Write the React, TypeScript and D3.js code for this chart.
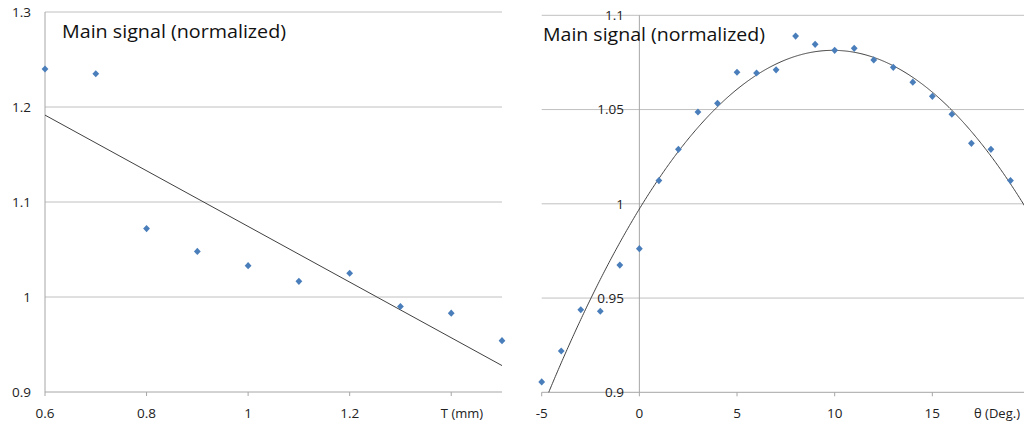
import React from "react";
import * as d3 from "d3";

// ---------- data ----------
const tValues = [0.6, 0.7, 0.8, 0.9, 1.0, 1.1, 1.2, 1.3, 1.4, 1.5];
const tSignal = [1.24, 1.235, 1.072, 1.048, 1.033, 1.0165, 1.025, 0.99, 0.983, 0.954];

const thetaValues = [-5, -4, -3, -2, -1, 0, 1, 2, 3, 4, 5, 6, 7, 8, 9, 10, 11, 12, 13, 14, 15, 16, 17, 18, 19];
const thetaSignal = [
  0.9055, 0.9219, 0.9438, 0.943, 0.9675, 0.9762, 1.0123, 1.0289, 1.0487, 1.0533, 1.0698, 1.0694,
  1.0711, 1.089, 1.0846, 1.0814, 1.0825, 1.0763, 1.0724, 1.0645, 1.057, 1.0475, 1.0321, 1.0289, 1.0123,
];

const leftXTicks = [0.6, 0.8, 1.0, 1.2, 1.4];
const leftXLabels = ["0.6", "0.8", "1", "1.2", ""];
const leftYTicks = [0.9, 1.0, 1.1, 1.2, 1.3];
const leftYLabels = ["0.9", "1", "1.1", "1.2", "1.3"];

const rightXTicks = [-5, 0, 5, 10, 15, 20];
const rightXLabels = ["-5", "0", "5", "10", "15", ""];
const rightYTicks = [0.9, 0.95, 1.0, 1.05, 1.1];
const rightYLabels = ["0.9", "0.95", "1", "1.05", "1.1"];

const titleText = "Main signal (normalized)";
const leftAxisTitle = "T (mm)";
const rightAxisTitle = "θ (Deg.)";

// ---------- least squares polynomial fit (trendline) ----------
function polyfit(xs: number[], ys: number[], order: number): number[] {
  const n = order + 1;
  const A: number[][] = [];
  for (let i = 0; i < n; i++) {
    A.push(new Array(n + 1).fill(0));
    for (let j = 0; j < n; j++) {
      A[i][j] = d3.sum(xs, (x) => Math.pow(x, i + j));
    }
    A[i][n] = d3.sum(xs.map((x, k) => Math.pow(x, i) * ys[k]));
  }
  for (let c = 0; c < n; c++) {
    let p = c;
    for (let r = c + 1; r < n; r++) if (Math.abs(A[r][c]) > Math.abs(A[p][c])) p = r;
    [A[c], A[p]] = [A[p], A[c]];
    for (let r = 0; r < n; r++) {
      if (r === c) continue;
      const f = A[r][c] / A[c][c];
      for (let k = c; k <= n; k++) A[r][k] -= f * A[c][k];
    }
  }
  return A.map((row, i) => row[n] / row[i]);
}
const polyEval = (coef: number[], x: number) => coef.reduce((s, c, i) => s + c * Math.pow(x, i), 0);

const GRID = "#c0c0c0";
const AXIS = "#a6a6a6";
const TEXT = "#222222";
const BLUE = "#4a7ebb";
const LINE = "#404040";
const FONT = "'Open Sans', 'Noto Sans', sans-serif";

const diamond = "M0,-3.6L3.4,0L0,3.6L-3.4,0Z";

export default function App() {
  // left chart
  const lx = d3.scaleLinear().domain([0.6, 1.5]).range([45, 502]);
  const ly = d3.scaleLinear().domain([0.9, 1.3]).range([392, 12]);
  const linCoef = polyfit(tValues, tSignal, 1);
  const linLine = d3
    .line<number>()
    .x((d) => lx(d))
    .y((d) => ly(polyEval(linCoef, d)));

  // right chart
  const rx = d3.scaleLinear().domain([-5, 20]).range([541.7, 1030]);
  const ry = d3.scaleLinear().domain([0.9, 1.1]).range([392.3, 15.3]);
  const quadCoef = polyfit(thetaValues, thetaSignal, 2);
  const curveX = d3.range(-5, 20.001, 0.05);
  const quadLine = d3
    .line<number>()
    .x((d) => rx(d))
    .y((d) => ry(polyEval(quadCoef, d)));

  return (
    <div style={{ position: "fixed", left: 0, top: 0 }}>
      <svg width={1024} height={426} style={{ display: "block", background: "#fff" }} fontFamily={FONT}>
        <defs>
          <clipPath id="clipL">
            <rect x={lx(0.6)} y={ly(1.3)} width={lx(1.5) - lx(0.6)} height={ly(0.9) - ly(1.3)} />
          </clipPath>
          <clipPath id="clipR">
            <rect x={rx(-5)} y={ry(1.1)} width={rx(20) - rx(-5)} height={ry(0.9) - ry(1.1)} />
          </clipPath>
        </defs>

        {/* ---------- LEFT ---------- */}
        <g>
          {leftYTicks.slice(1).map((v) => (
            <line key={v} x1={lx(0.6)} x2={lx(1.5)} y1={ly(v)} y2={ly(v)} stroke={GRID} strokeWidth={1} />
          ))}
          <line x1={lx(0.6)} x2={lx(0.6)} y1={ly(1.3)} y2={ly(0.9)} stroke={AXIS} />
          <line x1={lx(0.6)} x2={lx(1.5)} y1={ly(0.9)} y2={ly(0.9)} stroke={AXIS} />
          {leftXTicks.map((v) => (
            <line key={v} x1={lx(v)} x2={lx(v)} y1={ly(0.9)} y2={ly(0.9) + 4} stroke={AXIS} />
          ))}
          {leftYTicks.map((v, i) => (
            <text key={v} x={31} y={ly(v)} dy="0.35em" textAnchor="end" fontSize={13.5} fill={TEXT}>
              {leftYLabels[i]}
            </text>
          ))}
          {leftXTicks.map((v, i) => (
            <text key={v} x={lx(v)} y={413} dy="0.35em" textAnchor="middle" fontSize={13.5} fill={TEXT}>
              {leftXLabels[i]}
            </text>
          ))}
          <text x={462} y={413} dy="0.35em" textAnchor="middle" fontSize={13} fill={TEXT}>
            {leftAxisTitle}
          </text>
          <g clipPath="url(#clipL)">
            <path d={linLine([0.6, 1.5]) || ""} fill="none" stroke={LINE} strokeWidth={1} />
          </g>
          {tValues.map((t, i) => (
            <path key={t} d={diamond} transform={`translate(${lx(t)},${ly(tSignal[i])})`} fill={BLUE} />
          ))}
          <text x={62} y={38} fontSize={17.5} fill="#111" textLength={224} lengthAdjust="spacingAndGlyphs">
            {titleText}
          </text>
        </g>

        {/* ---------- RIGHT ---------- */}
        <g>
          {rightYTicks.slice(1).map((v) => (
            <line key={v} x1={rx(-5)} x2={rx(20)} y1={ry(v)} y2={ry(v)} stroke={GRID} strokeWidth={1} />
          ))}
          <line x1={rx(0)} x2={rx(0)} y1={ry(1.1)} y2={ry(0.9)} stroke={AXIS} />
          <line x1={rx(-5)} x2={rx(20)} y1={ry(0.9)} y2={ry(0.9)} stroke={AXIS} />
          {rightXTicks.map((v) => (
            <line key={v} x1={rx(v)} x2={rx(v)} y1={ry(0.9)} y2={ry(0.9) + 4} stroke={AXIS} />
          ))}
          {rightYTicks.map((v, i) => (
            <text key={v} x={624} y={ry(v)} dy="0.35em" textAnchor="end" fontSize={13.5} fill={TEXT}>
              {rightYLabels[i]}
            </text>
          ))}
          {rightXTicks.map((v, i) => (
            <text key={v} x={rx(v)} y={413} dy="0.35em" textAnchor="middle" fontSize={13.5} fill={TEXT}>
              {rightXLabels[i]}
            </text>
          ))}
          <text x={997} y={413} dy="0.35em" textAnchor="middle" fontSize={13} fill={TEXT}>
            {rightAxisTitle}
          </text>
          <g clipPath="url(#clipR)">
            <path d={quadLine(curveX) || ""} fill="none" stroke={LINE} strokeWidth={1} />
          </g>
          {thetaValues.map((t, i) => (
            <path key={t} d={diamond} transform={`translate(${rx(t)},${ry(thetaSignal[i])})`} fill={BLUE} />
          ))}
          <text x={543} y={41} fontSize={17.5} fill="#111" textLength={222} lengthAdjust="spacingAndGlyphs">
            {titleText}
          </text>
        </g>
      </svg>
    </div>
  );
}
